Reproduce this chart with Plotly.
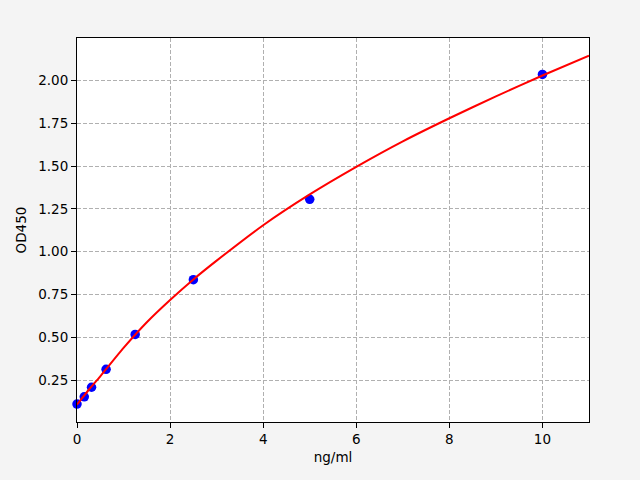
import plotly.graph_objects as go

# Standard points
conc = [0, 0.156, 0.3125, 0.625, 1.25, 2.5, 5, 10]
od = [0.110, 0.152, 0.208, 0.313, 0.517, 0.837, 1.306, 2.036]

# Fitted curve
curve_x = [0, 0.25, 0.5, 1, 1.5, 2, 2.5, 3, 4, 5, 6, 7, 8, 9, 10, 11]
curve_y = [0.107, 0.192, 0.272, 0.438, 0.588, 0.718, 0.838, 0.948, 1.155,
           1.335, 1.496, 1.645, 1.780, 1.908, 2.030, 2.146]

x_ticks = [0, 2, 4, 6, 8, 10]
y_ticks = [0.25, 0.50, 0.75, 1.00, 1.25, 1.50, 1.75, 2.00]

font = dict(family="DejaVu Sans", size=13.5, color="black")

fig = go.Figure()
fig.add_trace(go.Scatter(x=conc, y=od, mode="markers",
                         marker=dict(color="blue", size=9.5, line=dict(width=0)),
                         showlegend=False, cliponaxis=False))
fig.add_trace(go.Scatter(x=curve_x, y=curve_y, mode="lines",
                         line=dict(color="red", width=2, shape="spline", smoothing=0.6),
                         showlegend=False))

axis_common = dict(showline=True, linecolor="black", linewidth=1, mirror=True,
                   ticks="outside", ticklen=5, tickcolor="black", tickwidth=1,
                   showgrid=True, gridcolor="#b0b0b0", griddash="4px,2px", gridwidth=1,
                   zeroline=False, tickfont=font)

fig.update_layout(
    width=640, height=480,
    margin=dict(l=77, r=51, t=38, b=58),
    paper_bgcolor="#f4f4f4", plot_bgcolor="white",
    font=font,
    xaxis=dict(range=[0, 11], tickvals=x_ticks, ticktext=[str(v) for v in x_ticks],
               title=dict(text="ng/ml", font=font, standoff=6), **axis_common),
    yaxis=dict(range=[0.005, 2.249], tickvals=y_ticks,
               ticktext=[f"{v:.2f}" for v in y_ticks],
               title=dict(text="OD450", font=font, standoff=8), **axis_common),
)

fig.write_html(
    "out.html",
    config={"displayModeBar": False},
    post_script="document.body.style.margin='0';document.body.style.overflow='hidden';"
                "document.body.style.background='#f4f4f4';",
)
